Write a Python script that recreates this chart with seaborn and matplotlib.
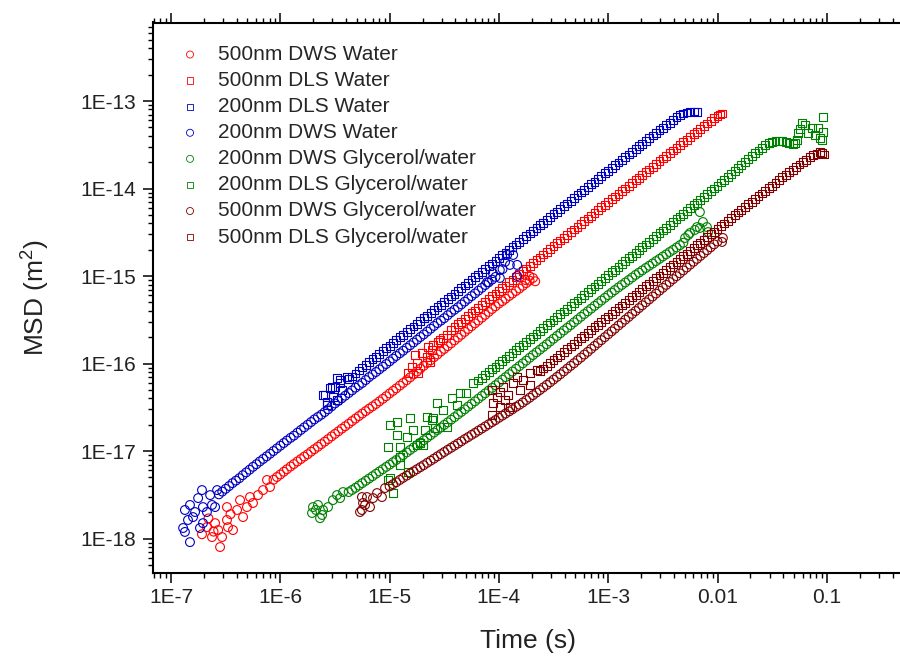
import numpy as np
import pandas as pd
import matplotlib
matplotlib.use("Agg")
import matplotlib.pyplot as plt
from matplotlib.ticker import FixedLocator, FixedFormatter, LogLocator, NullFormatter
import seaborn as sns

# ---------------- data (time [s], MSD [m^2]) ----------------
red_dws = [  # 500nm DWS Water
    (1.92e-7, 1.12e-18), (2.13e-7, 1.35e-18), (2.37e-7, 1.04e-18), (2.81e-7, 8.0e-19), (2.53e-7, 1.50e-18),
    (2.93e-7, 1.04e-18), (3.25e-7, 1.63e-18), (3.32e-7, 1.35e-18), (3.69e-7, 1.25e-18), (3.25e-7, 2.29e-18),
    (4.02e-7, 2.12e-18), (4.28e-7, 2.75e-18), (4.56e-7, 1.76e-18), (4.95e-7, 2.29e-18), (5.28e-7, 2.98e-18),
    (5.62e-7, 2.55e-18), (6.25e-7, 3.14e-18), (6.95e-7, 3.58e-18), (7.55e-7, 4.67e-18), (8.05e-7, 3.88e-18),
    (2.20e-7, 1.70e-18), (2.70e-7, 1.25e-18), (3.50e-7, 1.90e-18), (2.45e-7, 1.20e-18),
    (8.66e-7, 4.70e-18), (1.00e-6, 5.40e-18), (1.15e-6, 6.20e-18), (1.33e-6, 7.10e-18), (1.54e-6, 8.10e-18),
    (1.78e-6, 9.20e-18), (2.05e-6, 1.05e-17), (2.37e-6, 1.20e-17), (2.74e-6, 1.37e-17), (3.16e-6, 1.57e-17),
    (3.65e-6, 1.80e-17), (4.22e-6, 2.05e-17), (4.87e-6, 2.35e-17), (5.62e-6, 2.68e-17), (6.49e-6, 3.05e-17),
    (7.50e-6, 3.45e-17), (8.66e-6, 3.95e-17), (1.00e-5, 4.55e-17), (1.15e-5, 5.20e-17), (1.33e-5, 6.00e-17),
    (1.54e-5, 6.95e-17), (1.78e-5, 8.10e-17), (2.05e-5, 9.40e-17), (2.37e-5, 1.09e-16), (2.74e-5, 1.27e-16),
    (3.16e-5, 1.47e-16), (3.65e-5, 1.70e-16), (4.22e-5, 1.98e-16), (4.87e-5, 2.30e-16), (5.62e-5, 2.67e-16),
    (6.49e-5, 3.10e-16), (7.50e-5, 3.60e-16), (8.66e-5, 4.20e-16), (1.00e-4, 4.85e-16), (1.15e-4, 5.50e-16),
    (1.33e-4, 6.30e-16), (1.54e-4, 7.20e-16), (1.78e-4, 8.30e-16), (2.05e-4, 9.50e-16), (1.75e-4, 9.00e-16),
    (2.15e-4, 8.70e-16), (1.90e-4, 1.00e-15),
    (9.31e-7, 5.05e-18), (1.075e-6, 5.80e-18), (1.241e-6, 6.66e-18), (1.433e-6, 7.60e-18), (1.655e-6, 8.64e-18),
    (1.911e-6, 9.84e-18), (2.207e-6, 1.12e-17), (2.548e-6, 1.28e-17), (2.943e-6, 1.47e-17), (3.398e-6, 1.68e-17),
    (3.924e-6, 1.92e-17), (4.531e-6, 2.20e-17), (5.233e-6, 2.51e-17), (6.043e-6, 2.86e-17), (6.978e-6, 3.24e-17),
    (8.058e-6, 3.69e-17), (9.306e-6, 4.23e-17), (1.075e-5, 4.87e-17), (1.241e-5, 5.60e-17), (1.433e-5, 6.46e-17),
    (1.655e-5, 7.50e-17), (1.911e-5, 8.73e-17), (2.207e-5, 1.015e-16), (2.548e-5, 1.18e-16), (2.943e-5, 1.37e-16),
    (3.398e-5, 1.58e-16), (3.924e-5, 1.84e-16), (4.531e-5, 2.13e-16), (5.233e-5, 2.48e-16), (6.043e-5, 2.88e-16),
    (6.978e-5, 3.34e-16), (8.058e-5, 3.89e-16), (9.306e-5, 4.51e-16), (1.075e-4, 5.16e-16), (1.241e-4, 5.91e-16),
    (1.433e-4, 6.74e-16), (1.655e-4, 7.73e-16), (1.911e-4, 8.87e-16),
]

red_dls = [  # 500nm DLS Water
    (1.47e-5, 7.78e-17), (1.60e-5, 9.10e-17), (1.78e-5, 1.01e-16), (1.82e-5, 7.78e-17), (1.71e-5, 1.25e-16),
    (1.98e-5, 1.32e-16), (2.20e-5, 1.19e-16), (2.34e-5, 1.04e-16), (2.24e-5, 1.55e-16), (2.49e-5, 1.63e-16),
    (2.44e-5, 1.43e-16), (2.77e-5, 1.76e-16), (3.08e-5, 1.95e-16), (3.35e-5, 2.12e-16), (2.89e-5, 1.86e-16),
    (3.65e-5, 2.40e-16), (4.22e-5, 2.80e-16), (4.87e-5, 3.25e-16), (5.62e-5, 3.75e-16), (6.49e-5, 4.35e-16),
    (7.50e-5, 5.05e-16), (8.66e-5, 5.85e-16), (1.00e-4, 6.80e-16), (1.15e-4, 7.80e-16), (1.33e-4, 9.10e-16),
    (1.54e-4, 1.05e-15), (1.78e-4, 1.22e-15), (2.05e-4, 1.41e-15), (2.37e-4, 1.63e-15), (2.74e-4, 1.90e-15),
    (3.16e-4, 2.20e-15), (3.65e-4, 2.55e-15), (4.22e-4, 2.95e-15), (4.87e-4, 3.40e-15), (5.62e-4, 3.95e-15),
    (6.49e-4, 4.55e-15), (7.50e-4, 5.25e-15), (8.66e-4, 6.10e-15), (1.00e-3, 7.00e-15), (1.15e-3, 8.10e-15),
    (1.33e-3, 9.30e-15), (1.54e-3, 1.07e-14), (1.78e-3, 1.24e-14), (2.05e-3, 1.43e-14), (2.37e-3, 1.65e-14),
    (2.74e-3, 1.90e-14), (3.16e-3, 2.20e-14), (3.65e-3, 2.53e-14), (4.22e-3, 2.92e-14), (4.87e-3, 3.37e-14),
    (5.62e-3, 3.88e-14), (6.49e-3, 4.47e-14), (7.50e-3, 5.15e-14), (8.66e-3, 5.95e-14), (1.00e-2, 6.70e-14),
    (1.10e-2, 7.20e-14),
    (3.924e-5, 2.59e-16), (4.531e-5, 3.01e-16), (5.233e-5, 3.49e-16), (6.043e-5, 4.04e-16), (6.978e-5, 4.69e-16),
    (8.058e-5, 5.44e-16), (9.306e-5, 6.31e-16), (1.075e-4, 7.31e-16), (1.241e-4, 8.45e-16), (1.433e-4, 9.79e-16),
    (1.655e-4, 1.13e-15), (1.911e-4, 1.31e-15), (2.207e-4, 1.52e-15), (2.548e-4, 1.76e-15), (2.943e-4, 2.04e-15),
    (3.398e-4, 2.37e-15), (3.924e-4, 2.74e-15), (4.531e-4, 3.17e-15), (5.233e-4, 3.66e-15), (6.043e-4, 4.24e-15),
    (6.978e-4, 4.89e-15), (8.058e-4, 5.66e-15), (9.306e-4, 6.53e-15), (1.075e-3, 7.55e-15), (1.241e-3, 8.70e-15),
    (1.433e-3, 9.99e-15), (1.655e-3, 1.152e-14), (1.911e-3, 1.33e-14), (2.207e-3, 1.54e-14), (2.548e-3, 1.77e-14),
    (2.943e-3, 2.04e-14), (3.398e-3, 2.36e-14), (3.924e-3, 2.72e-14), (4.531e-3, 3.14e-14), (5.233e-3, 3.62e-14),
    (6.043e-3, 4.17e-14), (6.978e-3, 4.80e-14), (8.058e-3, 5.54e-14), (9.306e-3, 6.33e-14), (1.05e-2, 7.00e-14),
]

blue_dls = [  # 200nm DLS Water
    (2.56e-6, 4.36e-17), (2.85e-6, 5.25e-17), (3.16e-6, 5.38e-17), (3.52e-6, 6.47e-17), (3.66e-6, 4.98e-17),
    (3.03e-6, 4.14e-17), (4.07e-6, 7.00e-17), (3.30e-6, 6.80e-17), (2.67e-6, 3.63e-17), (2.46e-6, 4.36e-17),
    (2.67e-6, 3.36e-17), (3.30e-6, 3.83e-17), (3.52e-6, 5.98e-17), (2.97e-6, 5.38e-17),
    (4.22e-6, 6.60e-17), (4.87e-6, 7.70e-17), (5.62e-6, 9.00e-17), (6.49e-6, 1.04e-16), (7.50e-6, 1.20e-16),
    (8.66e-6, 1.38e-16), (1.00e-5, 1.60e-16), (1.15e-5, 1.84e-16), (1.33e-5, 2.13e-16), (1.54e-5, 2.46e-16),
    (1.78e-5, 2.85e-16), (2.05e-5, 3.28e-16), (2.37e-5, 3.80e-16), (2.74e-5, 4.38e-16), (3.16e-5, 5.06e-16),
    (3.65e-5, 5.84e-16), (4.22e-5, 6.75e-16), (4.87e-5, 7.80e-16), (5.62e-5, 9.00e-16), (6.49e-5, 1.04e-15),
    (7.50e-5, 1.20e-15), (8.66e-5, 1.39e-15), (1.00e-4, 1.60e-15), (1.15e-4, 1.84e-15), (1.33e-4, 2.13e-15),
    (1.54e-4, 2.46e-15), (1.78e-4, 2.85e-15), (2.05e-4, 3.28e-15), (2.37e-4, 3.80e-15), (2.74e-4, 4.38e-15),
    (3.16e-4, 5.06e-15), (3.65e-4, 5.84e-15), (4.22e-4, 6.75e-15), (4.87e-4, 7.80e-15), (5.62e-4, 9.00e-15),
    (6.49e-4, 1.04e-14), (7.50e-4, 1.20e-14), (8.66e-4, 1.38e-14), (1.00e-3, 1.60e-14), (1.15e-3, 1.84e-14),
    (1.33e-3, 2.12e-14), (1.54e-3, 2.45e-14), (1.78e-3, 2.83e-14), (2.05e-3, 3.26e-14), (2.37e-3, 3.75e-14),
    (2.74e-3, 4.33e-14), (3.16e-3, 4.95e-14), (3.65e-3, 5.65e-14), (4.22e-3, 6.50e-14), (4.87e-3, 7.20e-14),
    (5.62e-3, 7.55e-14), (6.49e-3, 7.50e-14),
    (4.531e-6, 7.11e-17), (5.233e-6, 8.32e-17), (6.043e-6, 9.67e-17), (6.978e-6, 1.117e-16), (8.058e-6, 1.29e-16),
    (9.306e-6, 1.49e-16), (1.075e-5, 1.72e-16), (1.241e-5, 1.99e-16), (1.433e-5, 2.29e-16), (1.655e-5, 2.65e-16),
    (1.911e-5, 3.06e-16), (2.207e-5, 3.53e-16), (2.548e-5, 4.08e-16), (2.943e-5, 4.71e-16), (3.398e-5, 5.44e-16),
    (3.924e-5, 6.28e-16), (4.531e-5, 7.25e-16), (5.233e-5, 8.37e-16), (6.043e-5, 9.67e-16), (6.978e-5, 1.117e-15),
    (8.058e-5, 1.29e-15), (9.306e-5, 1.49e-15), (1.075e-4, 1.72e-15), (1.241e-4, 1.99e-15), (1.433e-4, 2.29e-15),
    (1.655e-4, 2.65e-15), (1.911e-4, 3.06e-15), (2.207e-4, 3.53e-15), (2.548e-4, 4.08e-15), (2.943e-4, 4.71e-15),
    (3.398e-4, 5.44e-15), (3.924e-4, 6.28e-15), (4.531e-4, 7.25e-15), (5.233e-4, 8.37e-15), (6.043e-4, 9.67e-15),
    (6.978e-4, 1.117e-14), (8.058e-4, 1.29e-14), (9.306e-4, 1.49e-14), (1.075e-3, 1.72e-14), (1.241e-3, 1.98e-14),
    (1.433e-3, 2.28e-14), (1.655e-3, 2.63e-14), (1.911e-3, 3.04e-14), (2.207e-3, 3.50e-14), (2.548e-3, 4.04e-14),
    (2.943e-3, 4.64e-14), (3.398e-3, 5.30e-14), (3.924e-3, 6.05e-14), (4.531e-3, 6.90e-14), (5.233e-3, 7.40e-14),
    (6.043e-3, 7.60e-14),
]

blue_dws = [  # 200nm DWS Water
    (1.29e-7, 1.32e-18), (1.34e-7, 1.19e-18), (1.49e-7, 9.1e-19), (1.34e-7, 2.12e-18), (1.49e-7, 2.42e-18),
    (1.66e-7, 2.01e-18), (1.59e-7, 1.76e-18), (1.92e-7, 3.58e-18), (1.77e-7, 2.90e-18), (1.96e-7, 2.29e-18),
    (1.96e-7, 1.50e-18), (2.13e-7, 2.01e-18), (2.28e-7, 3.14e-18), (2.37e-7, 2.42e-18), (2.53e-7, 2.29e-18),
    (2.64e-7, 3.58e-18), (1.43e-7, 1.63e-18), (1.84e-7, 1.32e-18),
    (2.74e-7, 3.20e-18), (3.16e-7, 3.70e-18), (3.65e-7, 4.30e-18), (4.22e-7, 4.90e-18), (4.87e-7, 5.70e-18),
    (5.62e-7, 6.60e-18), (6.49e-7, 7.60e-18), (7.50e-7, 8.70e-18), (8.66e-7, 1.00e-17), (1.00e-6, 1.15e-17),
    (1.15e-6, 1.32e-17), (1.33e-6, 1.50e-17), (1.54e-6, 1.74e-17), (1.78e-6, 2.00e-17), (2.05e-6, 2.30e-17),
    (2.37e-6, 2.60e-17), (2.74e-6, 3.00e-17), (3.16e-6, 3.50e-17), (3.65e-6, 4.00e-17), (4.22e-6, 4.60e-17),
    (4.87e-6, 5.30e-17), (5.62e-6, 6.00e-17), (6.49e-6, 7.00e-17), (7.50e-6, 8.00e-17), (8.66e-6, 9.20e-17),
    (1.00e-5, 1.06e-16), (1.15e-5, 1.22e-16), (1.33e-5, 1.40e-16), (1.54e-5, 1.62e-16), (1.78e-5, 1.87e-16),
    (2.05e-5, 2.15e-16), (2.37e-5, 2.50e-16), (2.74e-5, 2.90e-16), (3.16e-5, 3.30e-16), (3.65e-5, 3.85e-16),
    (4.22e-5, 4.40e-16), (4.87e-5, 5.10e-16), (5.62e-5, 5.90e-16), (6.49e-5, 6.80e-16), (7.50e-5, 7.90e-16),
    (8.66e-5, 9.10e-16),
    (1.02e-4, 1.17e-15), (1.14e-4, 1.45e-15), (1.19e-4, 1.74e-15), (1.26e-4, 1.34e-15), (1.35e-4, 1.74e-15),
    (1.47e-4, 1.34e-15), (1.47e-4, 1.00e-15), (1.02e-4, 9.5e-16), (8.8e-5, 1.08e-15), (7.8e-5, 8.5e-16),
    (1.08e-4, 1.20e-15),
    (2.943e-7, 3.44e-18), (3.398e-7, 3.98e-18), (3.924e-7, 4.59e-18), (4.531e-7, 5.30e-18), (5.233e-7, 6.12e-18),
    (6.043e-7, 7.07e-18), (6.978e-7, 8.13e-18), (8.058e-7, 9.32e-18), (9.306e-7, 1.072e-17), (1.075e-6, 1.235e-17),
    (1.241e-6, 1.415e-17), (1.433e-6, 1.62e-17), (1.655e-6, 1.865e-17), (1.911e-6, 2.146e-17), (2.207e-6, 2.45e-17),
    (2.548e-6, 2.79e-17), (2.943e-6, 3.24e-17), (3.398e-6, 3.74e-17), (3.924e-6, 4.29e-17), (4.531e-6, 4.93e-17),
    (5.233e-6, 5.64e-17), (6.043e-6, 6.48e-17), (6.978e-6, 7.49e-17), (8.058e-6, 8.58e-17), (9.306e-6, 9.87e-17),
    (1.075e-5, 1.14e-16), (1.241e-5, 1.31e-16), (1.433e-5, 1.51e-16), (1.655e-5, 1.74e-16), (1.911e-5, 2.01e-16),
    (2.207e-5, 2.32e-16), (2.548e-5, 2.69e-16), (2.943e-5, 3.09e-16), (3.398e-5, 3.57e-16), (3.924e-5, 4.12e-16),
    (4.531e-5, 4.74e-16), (5.233e-5, 5.48e-16), (6.043e-5, 6.33e-16), (6.978e-5, 7.33e-16), (8.058e-5, 8.46e-16),
    (9.306e-5, 9.77e-16),
]

green_dws = [  # 200nm DWS Glycerol/water
    (1.95e-6, 1.96e-18), (1.99e-6, 2.29e-18), (2.21e-6, 2.42e-18), (2.41e-6, 1.86e-18), (2.46e-6, 2.12e-18),
    (2.73e-6, 2.29e-18), (3.03e-6, 2.75e-18), (3.30e-6, 3.14e-18), (3.52e-6, 2.90e-18), (3.75e-6, 3.40e-18),
    (2.31e-6, 1.71e-18), (2.12e-6, 2.12e-18),
    (4.22e-6, 3.40e-18), (4.87e-6, 3.80e-18), (5.62e-6, 4.30e-18), (6.49e-6, 4.85e-18), (7.50e-6, 5.50e-18),
    (8.66e-6, 6.20e-18), (1.00e-5, 7.00e-18), (1.15e-5, 7.90e-18), (1.33e-5, 9.00e-18), (1.54e-5, 1.03e-17),
    (1.78e-5, 1.17e-17), (2.05e-5, 1.33e-17), (2.37e-5, 1.52e-17), (2.74e-5, 1.74e-17), (3.16e-5, 1.99e-17),
    (3.65e-5, 2.28e-17), (4.22e-5, 2.62e-17), (4.87e-5, 3.00e-17), (5.62e-5, 3.45e-17), (6.49e-5, 3.97e-17),
    (7.50e-5, 4.57e-17), (8.66e-5, 5.27e-17), (1.00e-4, 6.08e-17), (1.15e-4, 7.00e-17), (1.33e-4, 8.10e-17),
    (1.54e-4, 9.35e-17), (1.78e-4, 1.08e-16), (2.05e-4, 1.25e-16), (2.37e-4, 1.44e-16), (2.74e-4, 1.66e-16),
    (3.16e-4, 1.92e-16), (3.65e-4, 2.22e-16), (4.22e-4, 2.56e-16), (4.87e-4, 2.96e-16), (5.62e-4, 3.42e-16),
    (6.49e-4, 3.95e-16), (7.50e-4, 4.56e-16), (8.66e-4, 5.25e-16), (1.00e-3, 6.05e-16), (1.15e-3, 6.90e-16),
    (1.33e-3, 7.90e-16), (1.54e-3, 9.00e-16), (1.78e-3, 1.03e-15), (2.05e-3, 1.16e-15), (2.37e-3, 1.31e-15),
    (2.74e-3, 1.48e-15), (3.16e-3, 1.67e-15), (3.65e-3, 1.88e-15), (4.22e-3, 2.12e-15), (4.87e-3, 2.40e-15),
    (5.05e-3, 2.72e-15), (5.40e-3, 2.94e-15), (5.60e-3, 3.10e-15), (6.20e-3, 3.36e-15), (6.50e-3, 3.63e-15),
    (6.90e-3, 3.54e-15), (7.36e-3, 4.14e-15), (8.00e-3, 3.63e-15), (6.90e-3, 5.38e-15), (8.20e-3, 3.18e-15),
    (4.531e-6, 3.59e-18), (5.233e-6, 4.04e-18), (6.043e-6, 4.57e-18), (6.978e-6, 5.16e-18), (8.058e-6, 5.84e-18),
    (9.306e-6, 6.59e-18), (1.075e-5, 7.45e-18), (1.241e-5, 8.46e-18), (1.433e-5, 9.64e-18), (1.655e-5, 1.097e-17),
    (1.911e-5, 1.248e-17), (2.207e-5, 1.424e-17), (2.548e-5, 1.626e-17), (2.943e-5, 1.86e-17), (3.398e-5, 2.13e-17),
    (3.924e-5, 2.44e-17), (4.531e-5, 2.80e-17), (5.233e-5, 3.22e-17), (6.043e-5, 3.70e-17), (6.978e-5, 4.26e-17),
    (8.058e-5, 4.91e-17), (9.306e-5, 5.66e-17), (1.075e-4, 6.54e-17), (1.241e-4, 7.56e-17), (1.433e-4, 8.71e-17),
    (1.655e-4, 1.005e-16), (1.911e-4, 1.162e-16), (2.207e-4, 1.344e-16), (2.548e-4, 1.547e-16), (2.943e-4, 1.786e-16),
    (3.398e-4, 2.066e-16), (3.924e-4, 2.386e-16), (4.531e-4, 2.75e-16), (5.233e-4, 3.18e-16), (6.043e-4, 3.68e-16),
    (6.978e-4, 4.24e-16), (8.058e-4, 4.89e-16), (9.306e-4, 5.63e-16), (1.075e-3, 6.47e-16), (1.241e-3, 7.41e-16),
    (1.433e-3, 8.44e-16), (1.655e-3, 9.62e-16), (1.911e-3, 1.093e-15), (2.207e-3, 1.236e-15), (2.548e-3, 1.39e-15),
    (2.943e-3, 1.57e-15), (3.398e-3, 1.77e-15), (3.924e-3, 1.99e-15), (4.531e-3, 2.25e-15),
]

green_dls = [  # 200nm DLS Glycerol/water
    (1.01e-5, 1.98e-17), (1.17e-5, 2.14e-17), (9.66e-6, 1.11e-17), (1.17e-5, 1.52e-17), (1.24e-5, 1.11e-17),
    (1.01e-5, 4.91e-18), (1.24e-5, 6.92e-18), (1.44e-5, 1.45e-17), (1.54e-5, 2.38e-17), (1.64e-5, 1.74e-17),
    (1.78e-5, 1.17e-17), (2.02e-5, 1.17e-17), (2.11e-5, 1.74e-17), (2.20e-5, 2.45e-17), (2.49e-5, 2.38e-17),
    (2.72e-5, 3.54e-17), (3.08e-5, 2.94e-17), (3.35e-5, 1.88e-17), (3.72e-5, 4.04e-17), (4.14e-5, 3.36e-17),
    (4.41e-5, 4.60e-17), (5.80e-5, 5.98e-17), (1.47e-5, 5.75e-18), (1.24e-5, 8.50e-18), (1.07e-5, 3.31e-18),
    (9.66e-6, 4.67e-18), (1.90e-5, 1.23e-17), (2.60e-5, 1.83e-17), (2.44e-5, 2.26e-17), (5.00e-5, 4.60e-17),
    (6.49e-5, 6.40e-17), (7.50e-5, 7.40e-17), (8.66e-5, 8.60e-17), (1.00e-4, 9.90e-17), (1.15e-4, 1.14e-16),
    (1.33e-4, 1.32e-16), (1.54e-4, 1.53e-16), (1.78e-4, 1.77e-16), (2.05e-4, 2.04e-16), (2.37e-4, 2.36e-16),
    (2.74e-4, 2.73e-16), (3.16e-4, 3.16e-16), (3.65e-4, 3.65e-16), (4.22e-4, 4.23e-16), (4.87e-4, 4.90e-16),
    (5.62e-4, 5.65e-16), (6.49e-4, 6.55e-16), (7.50e-4, 7.60e-16), (8.66e-4, 8.80e-16), (1.00e-3, 1.02e-15),
    (1.15e-3, 1.18e-15), (1.33e-3, 1.37e-15), (1.54e-3, 1.59e-15), (1.78e-3, 1.84e-15), (2.05e-3, 2.13e-15),
    (2.37e-3, 2.47e-15), (2.74e-3, 2.86e-15), (3.16e-3, 3.31e-15), (3.65e-3, 3.83e-15), (4.22e-3, 4.45e-15),
    (4.87e-3, 5.15e-15), (5.62e-3, 5.95e-15), (6.49e-3, 6.90e-15), (7.50e-3, 8.00e-15), (8.66e-3, 9.30e-15),
    (1.00e-2, 1.08e-14), (1.15e-2, 1.26e-14), (1.33e-2, 1.47e-14), (1.54e-2, 1.72e-14), (1.78e-2, 2.00e-14),
    (2.05e-2, 2.34e-14), (2.37e-2, 2.72e-14), (2.74e-2, 3.12e-14), (3.16e-2, 3.40e-14), (3.65e-2, 3.50e-14),
    (4.22e-2, 3.40e-14), (4.87e-2, 3.20e-14),
    (5.10e-2, 3.30e-14), (5.33e-2, 3.58e-14), (5.45e-2, 4.31e-14), (5.70e-2, 4.80e-14), (5.93e-2, 5.61e-14),
    (6.31e-2, 5.32e-14), (6.73e-2, 4.31e-14), (7.33e-2, 4.91e-14), (7.80e-2, 4.08e-14), (8.30e-2, 4.91e-14),
    (8.65e-2, 3.78e-14), (9.22e-2, 4.43e-14), (9.22e-2, 6.56e-14), (9.03e-2, 3.58e-14),
    (6.978e-5, 6.89e-17), (8.058e-5, 7.98e-17), (9.306e-5, 9.22e-17), (1.075e-4, 1.064e-16), (1.241e-4, 1.231e-16),
    (1.433e-4, 1.423e-16), (1.655e-4, 1.645e-16), (1.911e-4, 1.90e-16), (2.207e-4, 2.196e-16), (2.548e-4, 2.54e-16),
    (2.943e-4, 2.94e-16), (3.398e-4, 3.40e-16), (3.924e-4, 3.93e-16), (4.531e-4, 4.55e-16), (5.233e-4, 5.26e-16),
    (6.043e-4, 6.09e-16), (6.978e-4, 7.05e-16), (8.058e-4, 8.17e-16), (9.306e-4, 9.47e-16), (1.075e-3, 1.10e-15),
    (1.241e-3, 1.276e-15), (1.433e-3, 1.477e-15), (1.655e-3, 1.71e-15), (1.911e-3, 1.98e-15), (2.207e-3, 2.295e-15),
    (2.548e-3, 2.66e-15), (2.943e-3, 3.08e-15), (3.398e-3, 3.56e-15), (3.924e-3, 4.13e-15), (4.531e-3, 4.78e-15),
    (5.233e-3, 5.54e-15), (6.043e-3, 6.41e-15), (6.978e-3, 7.43e-15), (8.058e-3, 8.62e-15), (9.306e-3, 1.002e-14),
    (1.075e-2, 1.17e-14), (1.241e-2, 1.365e-14), (1.433e-2, 1.59e-14), (1.655e-2, 1.85e-14), (1.911e-2, 2.16e-14),
    (2.207e-2, 2.53e-14), (2.548e-2, 2.92e-14), (2.943e-2, 3.28e-14), (3.398e-2, 3.47e-14), (3.924e-2, 3.46e-14),
    (4.531e-2, 3.30e-14),
]

brown_dws = [  # 500nm DWS Glycerol/water
    (5.36e-6, 2.01e-18), (5.58e-6, 2.98e-18), (5.71e-6, 2.55e-18), (5.96e-6, 2.42e-18), (6.21e-6, 2.98e-18),
    (6.62e-6, 2.29e-18), (7.05e-6, 2.90e-18), (7.67e-6, 3.31e-18), (8.51e-6, 2.98e-18), (9.08e-6, 3.78e-18),
    (5.58e-6, 2.12e-18),
    (1.00e-5, 3.95e-18), (1.15e-5, 4.40e-18), (1.33e-5, 4.95e-18), (1.54e-5, 5.55e-18), (1.78e-5, 6.20e-18),
    (2.05e-5, 6.90e-18), (2.37e-5, 7.75e-18), (2.74e-5, 8.70e-18), (3.16e-5, 9.75e-18), (3.65e-5, 1.09e-17),
    (4.22e-5, 1.22e-17), (4.87e-5, 1.37e-17), (5.62e-5, 1.53e-17), (6.49e-5, 1.71e-17), (7.50e-5, 1.91e-17),
    (8.66e-5, 2.14e-17), (1.00e-4, 2.40e-17), (1.15e-4, 2.68e-17), (1.33e-4, 3.00e-17), (1.54e-4, 3.38e-17),
    (1.78e-4, 3.83e-17), (2.05e-4, 4.35e-17), (2.37e-4, 4.98e-17), (2.74e-4, 5.70e-17), (3.16e-4, 6.55e-17),
    (3.65e-4, 7.55e-17), (4.22e-4, 8.75e-17), (4.87e-4, 1.01e-16), (5.62e-4, 1.17e-16), (6.49e-4, 1.36e-16),
    (7.50e-4, 1.59e-16), (8.66e-4, 1.85e-16), (1.00e-3, 2.16e-16), (1.15e-3, 2.50e-16), (1.33e-3, 2.92e-16),
    (1.54e-3, 3.41e-16), (1.78e-3, 3.98e-16), (2.05e-3, 4.63e-16), (2.37e-3, 5.40e-16), (2.74e-3, 6.30e-16),
    (3.16e-3, 7.33e-16), (3.65e-3, 8.54e-16), (4.22e-3, 9.95e-16), (4.87e-3, 1.16e-15), (5.62e-3, 1.35e-15),
    (6.49e-3, 1.57e-15), (7.50e-3, 1.83e-15), (8.66e-3, 2.13e-15), (1.00e-2, 2.48e-15), (1.10e-2, 2.45e-15),
    (1.12e-2, 2.72e-15),
    (1.075e-5, 4.18e-18), (1.241e-5, 4.68e-18), (1.433e-5, 5.24e-18), (1.655e-5, 5.86e-18), (1.911e-5, 6.54e-18),
    (2.207e-5, 7.33e-18), (2.548e-5, 8.20e-18), (2.943e-5, 9.21e-18), (3.398e-5, 1.033e-17), (3.924e-5, 1.154e-17),
    (4.531e-5, 1.291e-17), (5.233e-5, 1.444e-17), (6.043e-5, 1.613e-17), (6.978e-5, 1.807e-17), (8.058e-5, 2.02e-17),
    (9.306e-5, 2.26e-17), (1.075e-4, 2.54e-17), (1.241e-4, 2.84e-17), (1.433e-4, 3.20e-17), (1.655e-4, 3.59e-17),
    (1.911e-4, 4.07e-17), (2.207e-4, 4.66e-17), (2.548e-4, 5.33e-17), (2.943e-4, 6.11e-17), (3.398e-4, 7.03e-17),
    (3.924e-4, 8.12e-17), (4.531e-4, 9.40e-17), (5.233e-4, 1.091e-16), (6.043e-4, 1.266e-16), (6.978e-4, 1.472e-16),
    (8.058e-4, 1.716e-16), (9.306e-4, 2.00e-16), (1.075e-3, 2.33e-16), (1.241e-3, 2.72e-16), (1.433e-3, 3.17e-16),
    (1.655e-3, 3.69e-16), (1.911e-3, 4.30e-16), (2.207e-3, 5.01e-16), (2.548e-3, 5.83e-16), (2.943e-3, 6.80e-16),
    (3.398e-3, 7.92e-16), (3.924e-3, 9.22e-16), (4.531e-3, 1.074e-15), (5.233e-3, 1.251e-15), (6.043e-3, 1.456e-15),
    (6.978e-3, 1.696e-15), (8.058e-3, 1.974e-15), (9.306e-3, 2.30e-15),
]

brown_dls = [  # 500nm DLS Glycerol/water
    (8.65e-5, 4.98e-17), (8.83e-5, 3.54e-17), (8.65e-5, 2.58e-17), (9.60e-5, 4.14e-17), (1.02e-4, 3.18e-17),
    (1.09e-4, 5.38e-17), (1.21e-4, 4.36e-17), (1.35e-4, 5.98e-17), (1.56e-4, 4.98e-17), (1.66e-4, 6.47e-17),
    (1.93e-4, 5.68e-17), (1.93e-4, 7.78e-17), (2.23e-4, 8.43e-17), (1.26e-4, 3.18e-17), (1.02e-4, 4.72e-17),
    (1.47e-4, 7.00e-17), (1.14e-4, 3.83e-17),
    (2.37e-4, 8.20e-17), (2.74e-4, 9.45e-17), (3.16e-4, 1.09e-16), (3.65e-4, 1.26e-16), (4.22e-4, 1.46e-16),
    (4.87e-4, 1.68e-16), (5.62e-4, 1.94e-16), (6.49e-4, 2.24e-16), (7.50e-4, 2.59e-16), (8.66e-4, 2.99e-16),
    (1.00e-3, 3.45e-16), (1.15e-3, 3.98e-16), (1.33e-3, 4.60e-16), (1.54e-3, 5.31e-16), (1.78e-3, 6.13e-16),
    (2.05e-3, 7.08e-16), (2.37e-3, 8.18e-16), (2.74e-3, 9.45e-16), (3.16e-3, 1.09e-15), (3.65e-3, 1.26e-15),
    (4.22e-3, 1.46e-15), (4.87e-3, 1.68e-15), (5.62e-3, 1.94e-15), (6.49e-3, 2.24e-15), (7.50e-3, 2.59e-15),
    (8.66e-3, 2.99e-15), (1.00e-2, 3.45e-15), (1.15e-2, 3.98e-15), (1.33e-2, 4.60e-15), (1.54e-2, 5.31e-15),
    (1.78e-2, 6.13e-15), (2.05e-2, 7.07e-15), (2.37e-2, 8.15e-15), (2.74e-2, 9.40e-15), (3.16e-2, 1.08e-14),
    (3.65e-2, 1.24e-14), (4.22e-2, 1.43e-14), (4.87e-2, 1.64e-14), (5.62e-2, 1.88e-14), (6.49e-2, 2.14e-14),
    (7.50e-2, 2.40e-14), (8.66e-2, 2.60e-14), (9.40e-2, 2.45e-14),
    (2.548e-4, 8.79e-17), (2.943e-4, 1.015e-16), (3.398e-4, 1.172e-16), (3.924e-4, 1.354e-16), (4.531e-4, 1.563e-16),
    (5.233e-4, 1.805e-16), (6.043e-4, 2.085e-16), (6.978e-4, 2.407e-16), (8.058e-4, 2.78e-16), (9.306e-4, 3.21e-16),
    (1.075e-3, 3.71e-16), (1.241e-3, 4.28e-16), (1.433e-3, 4.94e-16), (1.655e-3, 5.71e-16), (1.911e-3, 6.59e-16),
    (2.207e-3, 7.61e-16), (2.548e-3, 8.79e-16), (2.943e-3, 1.015e-15), (3.398e-3, 1.172e-15), (3.924e-3, 1.354e-15),
    (4.531e-3, 1.563e-15), (5.233e-3, 1.805e-15), (6.043e-3, 2.085e-15), (6.978e-3, 2.407e-15), (8.058e-3, 2.78e-15),
    (9.306e-3, 3.21e-15), (1.075e-2, 3.71e-15), (1.241e-2, 4.28e-15), (1.433e-2, 4.94e-15), (1.655e-2, 5.71e-15),
    (1.911e-2, 6.59e-15), (2.207e-2, 7.60e-15), (2.548e-2, 8.77e-15), (2.943e-2, 1.013e-14), (3.398e-2, 1.165e-14),
    (3.924e-2, 1.34e-14), (4.531e-2, 1.54e-14), (5.233e-2, 1.77e-14), (6.043e-2, 2.01e-14), (6.978e-2, 2.27e-14),
    (8.058e-2, 2.50e-14), (9.00e-2, 2.55e-14),
]

series_labels = [
    "500nm DWS Water", "500nm DLS Water", "200nm DLS Water", "200nm DWS Water",
    "200nm DWS Glycerol/water", "200nm DLS Glycerol/water",
    "500nm DWS Glycerol/water", "500nm DLS Glycerol/water",
]
series_data = [red_dws, red_dls, blue_dls, blue_dws, green_dws, green_dls, brown_dws, brown_dls]

x_tick_values = [1e-7, 1e-6, 1e-5, 1e-4, 1e-3, 1e-2, 1e-1]
x_tick_labels = ["1E-7", "1E-6", "1E-5", "1E-4", "1E-3", "0.01", "0.1"]
y_tick_values = [1e-18, 1e-17, 1e-16, 1e-15, 1e-14, 1e-13]
y_tick_labels = ["1E-18", "1E-17", "1E-16", "1E-15", "1E-14", "1E-13"]

# ---------------- styles ----------------
series_colors = ["#FF0000", "#FF0000", "#0000C0", "#0000C0", "#008000", "#008000", "#800000", "#800000"]
series_markers = ["o", "s", "s", "o", "o", "s", "o", "s"]

frames = []
for lab, pts in zip(series_labels, series_data):
    arr = np.array(pts)
    frames.append(pd.DataFrame({"Time": arr[:, 0], "MSD": arr[:, 1], "series": lab}))
df = pd.concat(frames, ignore_index=True)

sns.set_style("ticks")
plt.rcParams["font.family"] = ["Liberation Sans", "DejaVu Sans"]
plt.rcParams["mathtext.fontset"] = "custom"
plt.rcParams["mathtext.rm"] = "Liberation Sans"
plt.rcParams["mathtext.it"] = "Liberation Sans:italic"

fig = plt.figure(figsize=(9, 6.57), dpi=100)
ax = fig.add_axes([153 / 900, (657 - 573) / 657, (903 - 153) / 900, (573 - 22.5) / 657])
ax.set_xscale("log")
ax.set_yscale("log")

for lab, col, mk in zip(series_labels, series_colors, series_markers):
    sub = df[df["series"] == lab].sort_values("Time")
    sns.scatterplot(data=sub, x="Time", y="MSD", ax=ax, color=col, marker=mk,
                    s=40 if mk == "o" else 32, facecolor="none", edgecolor=col,
                    linewidth=0.8, label=lab, zorder=3)

ax.set_xlim(6.84e-8, 0.498)
ax.set_ylim(4.04e-19, 7.89e-13)

ax.xaxis.set_major_locator(FixedLocator(x_tick_values))
ax.xaxis.set_major_formatter(FixedFormatter(x_tick_labels))
ax.yaxis.set_major_locator(FixedLocator(y_tick_values))
ax.yaxis.set_major_formatter(FixedFormatter(y_tick_labels))
ax.xaxis.set_minor_locator(LogLocator(base=10, subs=np.arange(2, 10), numticks=100))
ax.yaxis.set_minor_locator(LogLocator(base=10, subs=np.arange(2, 10), numticks=100))
ax.xaxis.set_minor_formatter(NullFormatter())
ax.yaxis.set_minor_formatter(NullFormatter())

ax.tick_params(axis="x", which="both", top=True, bottom=True, direction="out")
ax.tick_params(axis="y", which="both", left=True, right=False, direction="out")
ax.tick_params(which="major", length=7, width=1.1, labelsize=15, color="black", labelcolor="#222222")
ax.tick_params(which="minor", length=3.8, width=1.0, color="black")
ax.tick_params(axis="x", which="major", pad=4)
ax.tick_params(axis="y", which="major", pad=5)

for side in ["left", "bottom", "top"]:
    ax.spines[side].set_linewidth(1.5)
    ax.spines[side].set_color("black")
ax.spines["right"].set_visible(False)

ax.set_xlabel("Time (s)", fontsize=19, color="#222222")
ax.set_ylabel(r"MSD (m$^\mathrm{2}$)", fontsize=19, color="#222222")
ax.xaxis.set_label_coords(0.5, -0.102)
ax.yaxis.set_label_coords(-0.135, 0.5)

handles, labels = ax.get_legend_handles_labels()
leg = ax.legend(handles, labels, loc="upper left", bbox_to_anchor=(179.6 / 900, 1 - 45 / 657),
                bbox_transform=fig.transFigure, frameon=False, fontsize=15, handlelength=1.0,
                handletextpad=0.85, labelspacing=0.34, borderpad=0, borderaxespad=0, markerscale=0.8)
for h in leg.legend_handles:
    h.set_linewidth(0.6)

fig.savefig("out.png", dpi=100)
